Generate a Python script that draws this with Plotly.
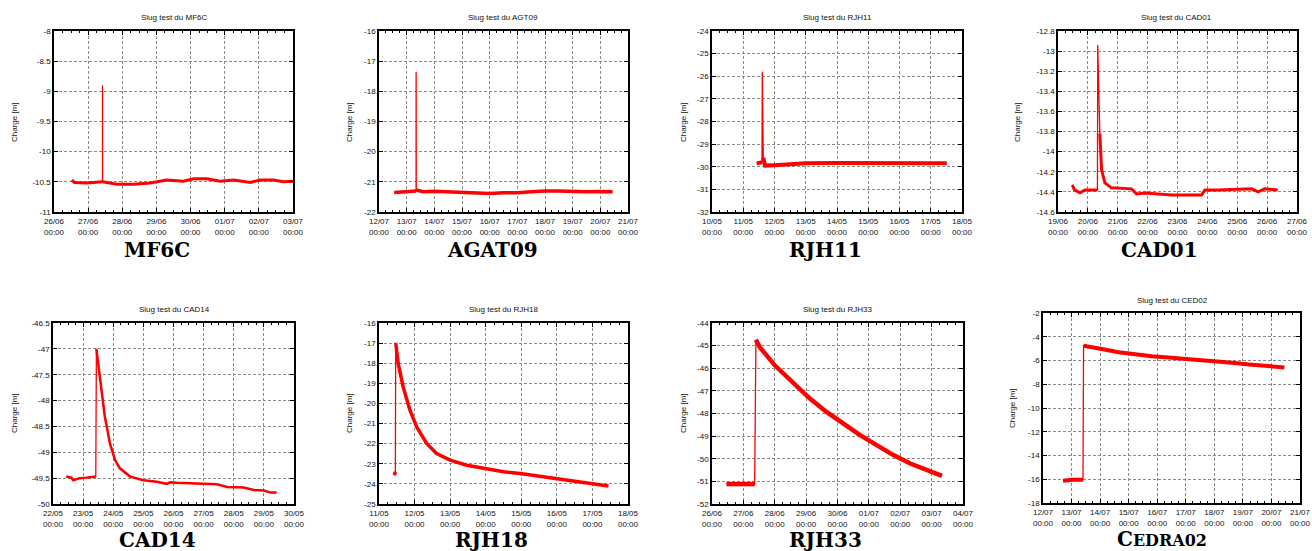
import numpy as np
import pandas as pd
import plotly.graph_objects as go

W, H = 1312, 551
YEAR = "2014-"

# ---------------- data ----------------
mf6c_t = ["06-26 12:30", "06-26 14:24", "06-26 23:00", "06-27 08:24", "06-27 10:05", "06-27 10:06",
          "06-27 10:08", "06-27 20:10", "06-28 07:55", "06-28 19:40", "06-29 07:12", "06-29 19:00",
          "06-30 02:10", "06-30 11:30", "06-30 20:53", "07-01 06:14", "07-01 18:00", "07-02 01:00",
          "07-02 10:19", "07-02 17:17", "07-03 00:00"]
mf6c_h = [-10.47, -10.51, -10.52, -10.50, -10.50, -8.90, -10.50, -10.54, -10.54, -10.52, -10.47, -10.49,
          -10.45, -10.45, -10.49, -10.47, -10.51, -10.47, -10.47, -10.50, -10.49]

agt09_t = ["07-12 13:12", "07-12 21:36", "07-13 07:12", "07-13 08:10", "07-13 08:12", "07-13 08:20",
           "07-13 14:24", "07-14 00:00", "07-14 12:00", "07-15 00:00", "07-15 12:00", "07-16 00:00",
           "07-16 12:00", "07-17 00:00", "07-17 12:00", "07-18 00:00", "07-18 12:00", "07-19 00:00",
           "07-19 12:00", "07-20 00:00", "07-20 10:34"]
agt09_h = [-21.35, -21.32, -21.31, -21.30, -17.35, -21.27, -21.33, -21.31, -21.33, -21.36, -21.37, -21.39,
           -21.36, -21.36, -21.33, -21.30, -21.30, -21.32, -21.33, -21.32, -21.33]

rjh11_t = ["05-11 10:19", "05-11 14:24", "05-11 14:38", "05-11 15:22", "05-11 16:48", "05-12 00:00",
           "05-12 07:12", "05-12 12:00", "05-13 00:00", "05-14 00:00", "05-15 00:00", "05-16 00:00",
           "05-17 00:00", "05-17 12:14"]
rjh11_h = [-29.85, -29.80, -25.80, -29.60, -29.95, -29.93, -29.90, -29.87, -29.85, -29.83, -29.85, -29.84,
           -29.85, -29.85]

cad01_t = ["06-19 11:31", "06-19 13:12", "06-19 17:46", "06-19 21:36", "06-20 07:41", "06-20 07:55",
           "06-20 09:36", "06-20 11:02", "06-20 13:41", "06-20 18:58", "06-21 11:02", "06-21 15:07",
           "06-21 21:50", "06-22 19:12", "06-23 19:26", "06-23 22:05", "06-24 08:38", "06-25 00:43",
           "06-25 11:31", "06-25 16:48", "06-25 22:05", "06-26 08:24"]
cad01_h = [-14.33, -14.38, -14.41, -14.38, -14.38, -12.94, -13.82, -14.18, -14.31, -14.36, -14.37, -14.42,
           -14.41, -14.43, -14.43, -14.38, -14.38, -14.37, -14.37, -14.40, -14.37, -14.38]

cad14_t = ["05-22 10:34", "05-22 14:38", "05-22 16:05", "05-22 21:22", "05-23 02:38", "05-23 10:05",
           "05-23 10:34", "05-23 12:00", "05-23 14:38", "05-23 17:17", "05-23 21:22", "05-24 01:26",
           "05-24 05:17", "05-24 13:26", "05-25 00:00", "05-25 10:34", "05-25 18:43", "05-25 21:22",
           "05-26 02:38", "05-26 10:34", "05-26 21:22", "05-27 10:34", "05-27 18:43", "05-28 07:55",
           "05-28 16:05", "05-29 00:00", "05-29 05:17", "05-29 10:05"]
cad14_h = [-49.47, -49.49, -49.54, -49.50, -49.49, -49.47, -47.00, -47.29, -47.80, -48.31, -48.83, -49.15,
           -49.31, -49.47, -49.54, -49.57, -49.61, -49.58, -49.59, -49.60, -49.61, -49.62, -49.67, -49.68,
           -49.73, -49.74, -49.78, -49.78]

rjh18_t = ["05-11 10:19", "05-11 11:02", "05-11 11:17", "05-11 12:58", "05-11 16:19", "05-11 20:53",
           "05-12 01:26", "05-12 08:10", "05-12 14:53", "05-13 00:00", "05-13 11:17", "05-13 22:34",
           "05-14 12:00", "05-14 23:17", "05-15 12:43", "05-16 02:10", "05-16 13:26", "05-17 00:43",
           "05-17 10:48"]
rjh18_h = [-23.57, -23.40, -16.99, -18.02, -19.18, -20.34, -21.17, -21.99, -22.49, -22.82, -23.07, -23.23,
           -23.40, -23.48, -23.62, -23.78, -23.90, -24.01, -24.11]

rjh33_t = ["06-26 11:02", "06-26 19:12", "06-27 02:24", "06-27 08:38", "06-27 09:36", "06-27 12:29",
           "06-28 00:00", "06-28 14:10", "06-29 02:53", "06-29 15:36", "06-30 04:34", "06-30 17:17",
           "07-01 06:00", "07-01 18:43", "07-02 07:41", "07-02 20:24", "07-03 07:55"]
rjh33_h = [-51.12, -51.10, -51.12, -51.12, -44.74, -45.06, -45.87, -46.68, -47.34, -47.93, -48.47, -48.96,
           -49.40, -49.84, -50.21, -50.50, -50.76]

ced02_t = ["07-12 16:48", "07-13 00:14", "07-13 09:36", "07-13 10:05", "07-13 14:24", "07-14 01:26",
           "07-14 15:36", "07-15 05:31", "07-15 19:26", "07-16 09:22", "07-16 23:31", "07-17 13:26",
           "07-18 03:22", "07-18 17:17", "07-19 07:26", "07-19 21:22", "07-20 10:48"]
ced02_h = [-16.13, -16.04, -16.05, -4.75, -4.81, -5.03, -5.31, -5.51, -5.65, -5.74, -5.85, -5.93,
           -6.02, -6.21, -6.35, -6.49, -6.58]

# x ranges (first day and number of days) and y ranges with tick step
names = ["MF6C", "AGT09", "RJH11", "CAD01", "CAD14", "RJH18", "RJH33", "CED02"]
labels = ["MF6C", "AGAT09", "RJH11", "CAD01", "CAD14", "RJH18", "RJH33",
          "C<span style='font-size:16px'>EDRA02</span>"]
x_start = ["06-26", "07-12", "05-10", "06-19", "05-22", "05-11", "06-26", "07-12"]
x_days = [7, 9, 8, 8, 8, 7, 8, 9]
y_lo = [-11, -22, -32, -14.6, -50, -25, -52, -18]
y_hi = [-8, -16, -24, -12.8, -46.5, -16, -44, -2]
y_step = [0.5, 1, 1, 0.2, 0.5, 1, 1, 2]
series_t = [mf6c_t, agt09_t, rjh11_t, cad01_t, cad14_t, rjh18_t, rjh33_t, ced02_t]
series_h = [mf6c_h, agt09_h, rjh11_h, cad01_h, cad14_h, rjh18_h, rjh33_h, ced02_h]

# ---------------- layout / style ----------------
# plot boxes in pixels: left, right, top, bottom
boxes = [(54, 293, 31, 212), (379, 628, 31, 212), (712, 962, 31, 212), (1058, 1297, 31, 212),
         (53, 294, 323, 504), (379, 628, 323, 504), (712, 963, 323, 504), (1043, 1300, 313, 503)]
title_pos = [(174, 17), (503, 17), (837, 17), (1176, 17), (174, 309), (503, 309), (837, 309), (1172, 300)]
ytitle_pos = [(14, 122), (349, 122), (683, 122), (1017, 122), (14, 413), (349, 413), (683, 413), (1012, 408)]
label_pos = [(157, 250), (492, 250), (825, 250), (1159, 250), (157, 540), (491, 540), (825, 540), (1162, 539)]
thick_w = [3, 3.5, 4, 3, 2.5, 3.5, 4.5, 4]
thin_w = 1.3

RED = "#ff0000"
FONT = "Liberation Sans, Arial, sans-serif"

fig = go.Figure()
layout = dict(width=W, height=H, margin=dict(l=0, r=0, t=0, b=0, autoexpand=False),
              paper_bgcolor="white", plot_bgcolor="white", showlegend=False,
              annotations=[])

def px(x):
    return x / W

def py(y):
    return 1 - y / H

for i in range(8):
    k = i + 1
    xa = "x" if k == 1 else f"x{k}"
    ya = "y" if k == 1 else f"y{k}"
    t = [pd.Timestamp(YEAR + s) for s in series_t[i]]
    h = series_h[i]
    pk = int(np.argmax(h))  # the spike
    fig.add_trace(go.Scatter(x=t, y=h, mode="lines", line=dict(color=RED, width=thin_w),
                             xaxis=xa, yaxis=ya, hoverinfo="skip"))
    # thicker (noisy) band before and after the spike
    jump = h[pk] - h[pk - 1]
    drop = h[pk] - h[pk + 1]
    start = pk + 1 if drop > 0.5 * jump else pk
    for tt, hh in ((t[:pk], h[:pk]), (t[start:], h[start:])):
        if len(tt) > 1:
            fig.add_trace(go.Scatter(x=tt, y=hh, mode="lines", line=dict(color=RED, width=thick_w[i]),
                                     xaxis=xa, yaxis=ya, hoverinfo="skip"))

    l, r, tp, bt = boxes[i]
    d0 = pd.Timestamp(YEAR + x_start[i])
    days = pd.date_range(d0, periods=x_days[i] + 1, freq="D")
    yt = np.round(np.arange(y_lo[i], y_hi[i] + y_step[i] / 2, y_step[i]), 3)
    common = dict(showline=True, linecolor="black", linewidth=1.5, mirror="allticks",
                  ticks="inside", ticklen=4, tickcolor="black", tickwidth=1,
                  showgrid=True, gridcolor="#8a8a8a", gridwidth=1, griddash="3px,2px",
                  zeroline=False, automargin=False,
                  tickfont=dict(family=FONT, size=8, color="#111"))
    layout["xaxis" if k == 1 else f"xaxis{k}"] = dict(
        domain=[px(l), px(r)], anchor=ya, range=[days[0], days[-1]],
        tickmode="array", tickvals=list(days), ticklabelstandoff=1,
        ticktext=[d.strftime("%d/%m<br>%H:%M") for d in days],
        minor=dict(ticks="inside", ticklen=2, tickcolor="black", dtick=6 * 3600 * 1000,
                   tick0=days[0], showgrid=False), **common)
    layout["yaxis" if k == 1 else f"yaxis{k}"] = dict(
        domain=[py(bt), py(tp)], anchor=xa, range=[y_lo[i], y_hi[i]], ticklabelstandoff=0,
        tickmode="array", tickvals=list(yt), ticktext=[f"{v:g}" for v in yt], **common)

    layout["annotations"].append(dict(text=f"Slug test du {names[i]}", x=px(title_pos[i][0]), y=py(title_pos[i][1]),
                                      xref="paper", yref="paper", showarrow=False, xanchor="center", yanchor="middle",
                                      font=dict(family=FONT, size=8, color="#111")))
    layout["annotations"].append(dict(text="Charge [m]", x=px(ytitle_pos[i][0]), y=py(ytitle_pos[i][1]),
                                      xref="paper", yref="paper", showarrow=False, textangle=-90,
                                      xanchor="center", yanchor="middle",
                                      font=dict(family=FONT, size=8, color="#111")))
    layout["annotations"].append(dict(text=f"<b>{labels[i]}</b>", x=px(label_pos[i][0]), y=py(label_pos[i][1]),
                                      xref="paper", yref="paper", showarrow=False,
                                      xanchor="center", yanchor="middle",
                                      font=dict(family="DejaVu Serif, serif", size=20, color="black")))

fig.update_layout(**layout)
fig.write_html("out.html", config={"displayModeBar": False},
               post_script="document.body.style.margin='0';document.body.style.overflow='hidden';")
